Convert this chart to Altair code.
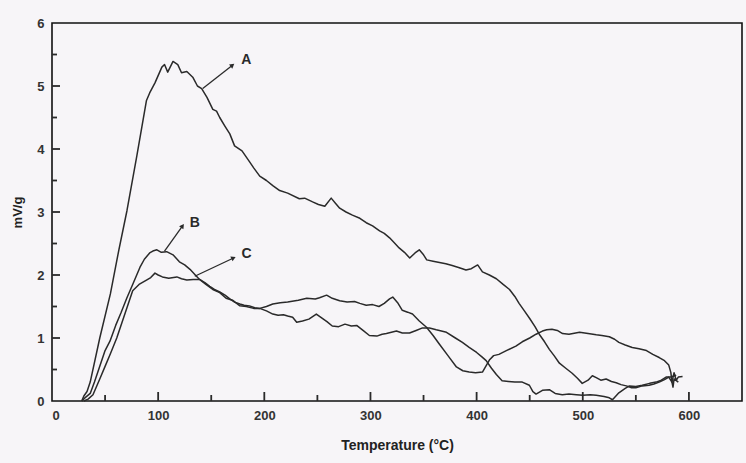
import math
import altair as alt
import pandas as pd

# ---------------- data ----------------
A_T = [28, 30, 33, 36, 45, 55, 63, 70.6, 80, 89, 92, 97, 103.5, 106, 109, 114, 118.5, 122, 127, 132.6,
       137, 141, 146, 151.5, 155, 158, 163, 167.5, 172, 179, 186, 190, 195.7, 202, 208, 214.5, 222, 233,
       238, 245.5, 251, 257, 263, 267, 271, 277, 283, 290, 296, 302, 308.6, 313, 318, 322, 327, 332, 337,
       342, 346, 350, 353, 359, 365, 371, 377, 383, 390, 395, 401, 405.5, 412, 418.6, 425, 431, 436, 440,
       445, 450, 455, 459, 464, 468.5, 473, 478, 484, 490, 495, 499.5, 505, 509, 512.7, 517, 522, 527,
       531.5, 536, 541, 546, 550, 556, 562.5, 567, 572, 577, 581, 584, 586, 588, 590, 594]
A_V = [0.0, 0.08, 0.15, 0.3, 1.0, 1.7, 2.4, 3.02, 3.9, 4.77, 4.89, 5.05, 5.3, 5.34, 5.22, 5.39, 5.34, 5.21,
       5.23, 5.14, 5.0, 4.96, 4.82, 4.63, 4.6, 4.5, 4.36, 4.24, 4.05, 3.97, 3.8, 3.7, 3.57, 3.5, 3.42, 3.34,
       3.3, 3.21, 3.22, 3.16, 3.12, 3.09, 3.22, 3.14, 3.06, 3.0, 2.95, 2.9, 2.83, 2.78, 2.70, 2.66, 2.59,
       2.52, 2.43, 2.36, 2.27, 2.35, 2.40, 2.32, 2.24, 2.22, 2.2, 2.18, 2.15, 2.12, 2.08, 2.1, 2.16, 2.05,
       2.0, 1.94, 1.85, 1.77, 1.66, 1.55, 1.43, 1.31, 1.18, 1.06, 0.94, 0.82, 0.72, 0.60, 0.52, 0.44, 0.36,
       0.28, 0.33, 0.40, 0.37, 0.33, 0.35, 0.31, 0.29, 0.26, 0.24, 0.21, 0.21, 0.24, 0.25, 0.27, 0.30, 0.34,
       0.38, 0.30, 0.45, 0.33, 0.38, 0.39]

B_T = [28, 31, 36, 40, 45, 50, 54.6, 60, 65, 70.6, 76, 82.8, 87, 92, 95, 98.8, 103, 108, 114, 120, 125,
       130, 135, 139, 144, 148.6, 153, 158, 163, 167.5, 172, 177, 181, 186, 191, 195.7, 202, 208, 213, 218,
       222, 226.7, 230.5, 236, 242, 249, 254, 259, 264, 270, 276, 282, 287, 293, 299, 306, 311, 315, 324.5,
       330, 336.8, 343, 349, 355.6, 362, 371.6, 380, 386.6, 393, 400, 405, 409, 414, 418.6, 424, 430, 436,
       443, 449.7, 453, 456, 462, 468.5, 474, 480.7, 487, 494, 500, 507, 512.7, 520, 525, 528, 534, 540,
       544, 550, 556, 563, 569, 574, 578.5, 583, 588]
B_V = [0.0, 0.05, 0.12, 0.3, 0.55, 0.8, 0.95, 1.2, 1.4, 1.64, 1.85, 2.12, 2.25, 2.35, 2.38, 2.40, 2.36,
       2.37, 2.32, 2.21, 2.16, 2.09, 2.0, 1.93, 1.88, 1.82, 1.77, 1.73, 1.68, 1.62, 1.57, 1.54, 1.52, 1.51,
       1.48, 1.47, 1.43, 1.38, 1.36, 1.37, 1.35, 1.33, 1.25, 1.27, 1.30, 1.38, 1.32, 1.26, 1.19, 1.18, 1.22,
       1.19, 1.2, 1.12, 1.04, 1.03, 1.06, 1.07, 1.11, 1.08, 1.08, 1.12, 1.16, 1.16, 1.13, 1.09, 1.0, 0.93,
       0.85, 0.77, 0.7, 0.64, 0.52, 0.42, 0.32, 0.31, 0.3, 0.30, 0.25, 0.15, 0.11, 0.17, 0.18, 0.12, 0.10,
       0.11, 0.10, 0.09, 0.10, 0.09, 0.07, 0.05, 0.02, 0.13, 0.2, 0.24, 0.23, 0.25, 0.28, 0.30, 0.33, 0.38,
       0.38, 0.41]

C_T = [30, 34, 38.6, 45, 50, 55, 61, 66, 71, 76, 82, 89, 93, 97, 100, 104, 110, 117.6, 122, 127, 133,
       139, 145, 151.5, 158, 164, 170, 177, 183, 190, 195.7, 202, 208, 215, 222, 232, 240, 248, 252, 258.7,
       264, 271, 278, 285, 290, 296, 302, 308, 313, 318, 321, 326, 330, 335, 339.6, 346, 352.8, 359, 365,
       373, 381, 387, 393, 399, 405.5, 412, 416, 421, 428, 437, 443, 450, 456, 462, 466, 471, 476, 481, 487,
       497, 505, 512.7, 518, 525, 530, 534, 540, 546.6, 553, 560, 566, 572, 577, 581, 583, 584, 585, 586, 590]
C_V = [0.0, 0.03, 0.1, 0.35, 0.55, 0.75, 1.0, 1.25, 1.5, 1.75, 1.85, 1.92, 1.96, 2.03, 2.0, 1.97, 1.95,
       1.97, 1.94, 1.92, 1.93, 1.93, 1.85, 1.77, 1.72, 1.63, 1.6, 1.51, 1.5, 1.47, 1.47, 1.5, 1.54, 1.56,
       1.57, 1.6, 1.63, 1.62, 1.64, 1.68, 1.63, 1.59, 1.57, 1.58, 1.55, 1.52, 1.53, 1.5, 1.55, 1.62, 1.65,
       1.55, 1.44, 1.41, 1.38, 1.27, 1.17, 1.04, 0.90, 0.72, 0.54, 0.48, 0.46, 0.45, 0.46, 0.65, 0.72, 0.74,
       0.8, 0.87, 0.94, 1.0, 1.06, 1.11, 1.13, 1.14, 1.12, 1.07, 1.06, 1.09, 1.07, 1.05, 1.04, 1.02, 0.98,
       0.93, 0.89, 0.85, 0.83, 0.80, 0.74, 0.69, 0.64, 0.57, 0.45, 0.30, 0.22, 0.35, 0.3]

SERIES = ["A", "B", "C"]
LABEL_T = [183, 134.5, 183.4]
LABEL_V = [5.41, 2.83, 2.33]
ARROW_T0 = [142, 106, 134.5]
ARROW_V0 = [4.96, 2.38, 1.98]
ARROW_T1 = [170, 123, 171]
ARROW_V1 = [5.33, 2.78, 2.27]

X_LABELS = [0, 100, 200, 300, 400, 500, 600]
Y_LABELS = [0, 1, 2, 3, 4, 5, 6]
X_MAJOR_TICKS = [100, 200, 300, 400, 500, 600]
X_MINOR_TICKS = [50, 150, 250, 350, 450, 550]
Y_MAJOR_TICKS = [1, 2, 3, 4, 5]
Y_MINOR_TICKS = [0.5, 1.5, 2.5, 3.5, 4.5, 5.5]

# ---------------- layout ----------------
W, H = 690, 378
X_MAX, Y_MAX = 650, 6
FONT = "Liberation Sans"
INK = "#2a2a2a"
BG = "#f7f5f8"

rows = []
for name, T, V in zip(SERIES, [A_T, B_T, C_T], [A_V, B_V, C_V]):
    for i, (t, v) in enumerate(zip(T, V)):
        rows.append({"series": name, "T": t, "v": v, "i": i})
df = pd.DataFrame(rows)

px_x = W / X_MAX
px_y = H / Y_MAX
angles = [math.degrees(math.atan2((t1 - t0) * px_x, (v1 - v0) * px_y))
          for t0, v0, t1, v1 in zip(ARROW_T0, ARROW_V0, ARROW_T1, ARROW_V1)]
ann = pd.DataFrame({"s": SERIES, "lt": LABEL_T, "lv": LABEL_V,
                    "t0": ARROW_T0, "v0": ARROW_V0, "t1": ARROW_T1, "v1": ARROW_V1,
                    "ang": angles})

# inward tick marks (segments in data units)
tick_rows = []
for vals, ln in [(X_MAJOR_TICKS, 9), (X_MINOR_TICKS, 6)]:
    for t in vals:
        tick_rows.append({"t0": float(t), "t1": float(t), "v0": 0.0, "v1": ln / px_y})
for vals, ln in [(Y_MAJOR_TICKS, 8), (Y_MINOR_TICKS, 5)]:
    for t in vals:
        tick_rows.append({"t0": 0.0, "t1": ln / px_x, "v0": float(t), "v1": float(t)})
ticks_df = pd.DataFrame(tick_rows)

xs = alt.Scale(domain=[0, X_MAX], nice=False, zero=False)
ys = alt.Scale(domain=[0, Y_MAX], nice=False)

ticks = alt.Chart(ticks_df).mark_rule(color=INK, strokeWidth=1.8).encode(
    x=alt.X("t0:Q", scale=xs), y=alt.Y("v0:Q", scale=ys),
    x2="t1:Q", y2="v1:Q")

lines = alt.Chart(df).mark_line(color=INK, strokeWidth=1.5, strokeJoin="round").encode(
    x=alt.X("T:Q", scale=xs, axis=alt.Axis(
        values=X_LABELS, format="d", title="Temperature (°C)", domain=False, ticks=False, grid=False,
        labelFont=FONT, labelFontSize=13, labelFontWeight="bold", labelColor="#333",
        labelPadding=8, titleFont=FONT, titleFontSize=14, titleFontWeight="bold",
        titleColor="#222", titlePadding=16)),
    y=alt.Y("v:Q", scale=ys, axis=alt.Axis(
        values=Y_LABELS, format="d", title="mV/g", domain=False, ticks=False, grid=False,
        labelFont=FONT, labelFontSize=13, labelFontWeight="bold", labelColor="#333",
        labelPadding=8, titleFont=FONT, titleFontSize=13, titleFontWeight="bold",
        titleColor="#222", titlePadding=12)),
    detail="series:N",
    order="i:Q",
)

arrows = alt.Chart(ann).mark_rule(color=INK, strokeWidth=1.3).encode(
    x=alt.X("t0:Q", scale=xs), y=alt.Y("v0:Q", scale=ys),
    x2="t1:Q", y2="v1:Q")

heads = alt.Chart(ann).mark_point(shape="triangle-up", filled=True, size=28,
                                  color=INK, opacity=1).encode(
    x=alt.X("t1:Q", scale=xs), y=alt.Y("v1:Q", scale=ys), angle=alt.Angle("ang:Q", scale=None))

labels = alt.Chart(ann).mark_text(font=FONT, fontSize=14, fontWeight="bold", color=INK,
                                  align="center", baseline="middle").encode(
    x=alt.X("lt:Q", scale=xs), y=alt.Y("lv:Q", scale=ys), text="s:N")

chart = alt.layer(ticks, lines, arrows, heads, labels).properties(
    width=W, height=H,
    padding={"left": 52, "top": 23, "right": 4, "bottom": 62},
    autosize=alt.AutoSizeParams(type="none"),
    background=BG,
).configure_view(stroke="#111", strokeWidth=1.6, fill=BG)

chart.save("out.html", embed_options={"renderer": "svg", "actions": False})
